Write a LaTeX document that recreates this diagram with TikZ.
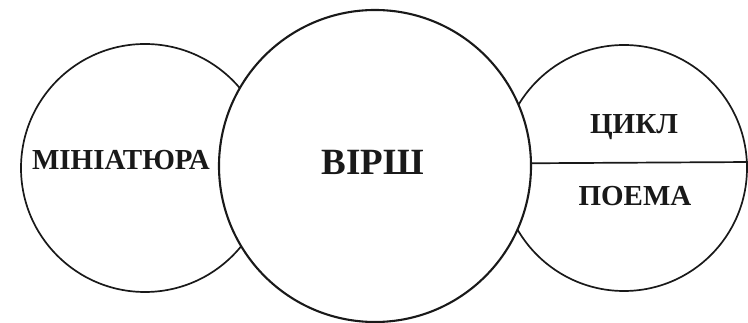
\documentclass[tikz,border=0pt]{standalone}
\usepackage{fontspec}
\setmainfont{Liberation Serif}
\begin{document}
\begin{tikzpicture}[x=1pt,y=1pt,
  circ/.style={draw=black!90, line width=1.7pt, circle, inner sep=0pt, fill=white},
  lbl/.style={font=\bfseries\fontsize{29}{31}\selectfont, text=black!90, inner sep=0pt, anchor=base},
  rule/.style={draw=black!90, line width=1.7pt}]
\useasboundingbox (0,0) rectangle (748,323);
\clip (0,0) rectangle (748,323);
\node[circ, minimum size=248pt] (left) at (145,155) {};
\node[circ, minimum size=246pt] (right) at (624,155) {};
\node[circ, minimum size=312pt, line width=2.1pt] (big) at (375,157) {};
\coordinate (lineR) at (752,161);
\draw[rule] (big.1.5) -- (lineR);
\node[lbl] (mini) at (121,153) {МІНІАТЮРА};
\node[lbl, font=\bfseries\fontsize{37}{39}\selectfont] (virsh) at (373,148) {ВІРШ};
\node[lbl] (cykl) at (634,189) {ЦИКЛ};
\node[lbl] (poema) at (635,117) {ПОЕМА};
\end{tikzpicture}
\end{document}
